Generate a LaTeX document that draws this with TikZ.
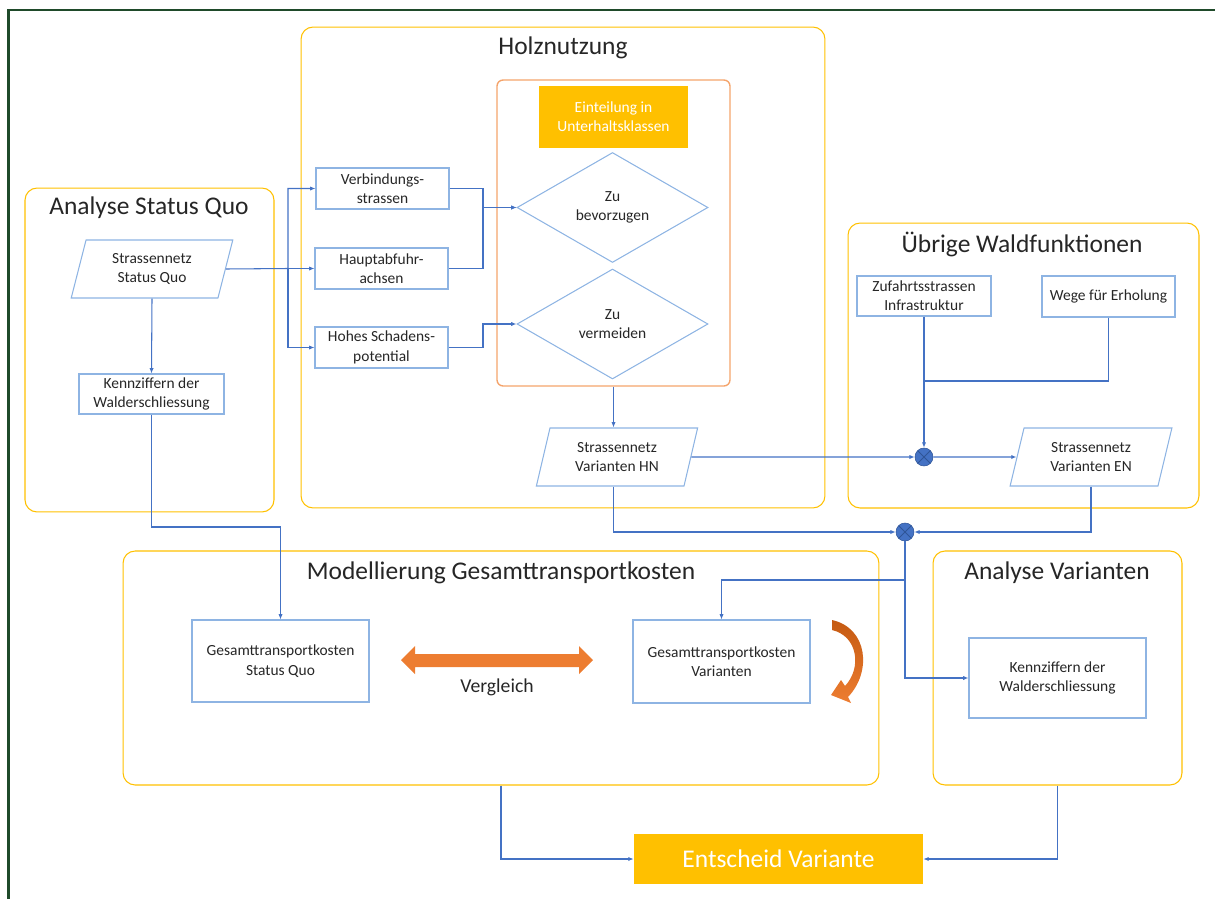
\documentclass[tikz,border=0pt]{standalone}
\usepackage{fontspec}
\setmainfont{Carlito}
\usetikzlibrary{positioning}
\usetikzlibrary{shapes.geometric, arrows.meta}

\definecolor{lineblue}{HTML}{4472C4}
\definecolor{boxblue}{HTML}{8EB4E3}
\definecolor{grpyellow}{HTML}{FFC000}
\definecolor{hnorange}{HTML}{F4A46C}
\definecolor{accorange}{HTML}{ED7D31}
\definecolor{darkorange}{HTML}{C55A11}
\definecolor{framegreen}{HTML}{1F4A2A}
\definecolor{txtgray}{HTML}{262626}
\definecolor{junctdraw}{HTML}{2F5597}

\tikzset{
  grp/.style={draw=grpyellow, line width=0.6pt, rounded corners=0.24cm, inner sep=0pt},
  grptitle/.style={font=\fontsize{14.5}{17}\selectfont, text=txtgray},
  box/.style={draw=boxblue, line width=0.6pt, align=center, inner sep=1pt, font=\fontsize{8.8}{11}\selectfont, text=txtgray},
  decide/.style={box, diamond, minimum width=3.82cm, minimum height=2.2cm, inner sep=0pt},
  sn/.style={box, trapezium, trapezium left angle=75, trapezium right angle=105, trapezium stretches=true, minimum width=3.24cm, minimum height=1.16cm},
  goldbox/.style={fill=grpyellow, align=center, text=white, inner sep=1pt},
  junct/.style={circle, fill=lineblue, draw=junctdraw, line width=0.3pt, minimum size=0.36cm, inner sep=0pt,
    path picture={\draw[junctdraw, line width=0.5pt] (path picture bounding box.north west) -- (path picture bounding box.south east) (path picture bounding box.north east) -- (path picture bounding box.south west);}},
  conn/.style={draw=lineblue, line width=0.6pt, -{Latex[length=3pt,width=2.4pt]}},
  plain/.style={draw=lineblue, line width=0.6pt}
}

\begin{document}
\begin{tikzpicture}[x=0.02cm, y=-0.02cm]
\useasboundingbox (0,0) rectangle (1215,899);
\draw[framegreen, line width=1.2pt] (8.5,899) -- (8.5,10) -- (1215,10);

% groups
\node[grp, minimum width=4.98cm, minimum height=6.48cm] (sqgrp) at (149.5,350) {};
\node[grp, minimum width=10.48cm, minimum height=9.62cm] (holzgrp) at (563,267.5) {};
\node[grp, minimum width=7.02cm, minimum height=5.7cm] (ubrgrp) at (1023.5,365.5) {};
\node[grp, minimum width=15.12cm, minimum height=4.68cm] (modgrp) at (501,668) {};
\node[grp, minimum width=4.98cm, minimum height=4.68cm] (avgrp) at (1057.5,668) {};
\node[draw=hnorange, line width=0.8pt, rounded corners=0.12cm, minimum width=4.66cm, minimum height=6.12cm] (unterhalt) at (613.5,233) {};

\node[grptitle] (sqtitle) at (149,208) {Analyse Status Quo};
\node[grptitle] (holztitle) at (563,48) {Holznutzung};
\node[grptitle] (ubrtitle) at (1022,244) {Übrige Waldfunktionen};
\node[grptitle] (modtitle) at (501,573) {Modellierung Gesamttransportkosten};
\node[grptitle] (avtitle) at (1057,573) {Analyse Varianten};

% nodes
\node[sn] (sq) at (152,269) {Strassennetz\\Status Quo};
\node[box, minimum width=2.9cm, minimum height=0.8cm] (kzl) at (151.5,394) {Kennziffern der\\Walderschliessung};
\node[box, minimum width=2.66cm, minimum height=0.82cm] (verb) at (382.5,188.5) {Verbindungs-\\strassen};
\node[box, minimum width=2.66cm, minimum height=0.82cm] (haupt) at (381.5,268.5) {Hauptabfuhr-\\achsen};
\node[box, minimum width=2.66cm, minimum height=0.82cm] (hohes) at (381.5,347.5) {Hohes Schadens-\\potential};
\node[goldbox, minimum width=2.98cm, minimum height=1.24cm, font=\fontsize{8.8}{11}\selectfont] (einteil) at (613.5,117) {Einteilung in\\Unterhaltsklassen};
\node[decide] (dia1) at (612.5,207.5) {Zu\\bevorzugen};
\node[decide] (dia2) at (612.5,324) {Zu\\vermeiden};
\node[sn] (hn) at (617,457) {Strassennetz\\Varianten HN};
\node[box, minimum width=2.68cm, minimum height=0.8cm] (zuf) at (924,296) {Zufahrtsstrassen\\Infrastruktur};
\node[box, minimum width=2.66cm, minimum height=0.82cm] (wege) at (1108.5,296.5) {Wege für Erholung};
\node[junct] (j1) at (924,457) {};
\node[sn] (en) at (1091,457) {Strassennetz\\Varianten EN};
\node[junct] (j2) at (905,532) {};
\node[box, minimum width=3.54cm, minimum height=1.64cm] (gtksq) at (280.5,661) {Gesamttransportkosten\\Status Quo};
\node[box, minimum width=3.54cm, minimum height=1.66cm] (gtkv) at (721.5,661.5) {Gesamttransportkosten\\Varianten};
\node[box, minimum width=3.54cm, minimum height=1.6cm] (kzr) at (1057.5,678) {Kennziffern der\\Walderschliessung};
\node[goldbox, minimum width=5.78cm, minimum height=1cm, font=\fontsize{14.5}{17}\selectfont] (entsch) at (778.5,859) {Entscheid Variante};

\fill[accorange] (401,660) -- (415,646) -- (415,654) -- (579,654) -- (579,646) -- (593,660) -- (579,674) -- (579,667) -- (415,667) -- (415,674) -- cycle;
\node[font=\fontsize{11.2}{13}\selectfont, text=txtgray] (vgl) at (497,687) {Vergleich};
\shade[top color=darkorange, bottom color=accorange] (832,620) .. controls (868,628) and (872,672) .. (848,697) -- (851,703) -- (831,695) -- (841,680) -- (845,686) .. controls (862,668) and (858,636) .. (832,630) -- cycle;

% connectors
\coordinate (sqsplit) at (288,268.5);
\draw[conn] (sq.east) -- (sqsplit) |- (verb.west);
\draw[conn] (sqsplit) -- (haupt.west);
\draw[conn] (sqsplit) |- (hohes.west);
\coordinate (mergebev) at (483,207.5);
\coordinate (mergeverm) at (483,324);
\draw[conn] (verb.east) -| (mergebev) -- (dia1.west);
\draw[conn] (haupt.east) -| (mergebev) -- (dia1.west);
\draw[conn] (hohes.east) -| (mergeverm) -- (dia2.west);
\draw[conn] (unterhalt.south) -- (unterhalt.south |- hn.north);
\draw[conn] (sq.south) -- (kzl.north);
\coordinate (kzbend) at (151.5,527);
\draw[conn] (kzl.south) -- (kzbend) -| (gtksq.north);
\draw[conn] (hn.east) -- (j1.west);
\draw[conn] (zuf.south) -- (j1.north);
\coordinate (wegebend) at (924,381);
\draw[plain] (wege.south) |- (wegebend);
\draw[conn] (j1.east) -- (en.west);
\draw[conn] (hn.south -| unterhalt.south) |- (j2.west);
\draw[conn] (en.south) |- (j2.east);
\coordinate (vbend) at (905,580);
\draw[conn] (j2.south) -- (vbend) -| (gtkv.north);
\draw[conn] (j2.south) |- (kzr.west);
\draw[conn] (modgrp.south) |- (entsch.west);
\draw[conn] (avgrp.south) |- (entsch.east);
\end{tikzpicture}
\end{document}
